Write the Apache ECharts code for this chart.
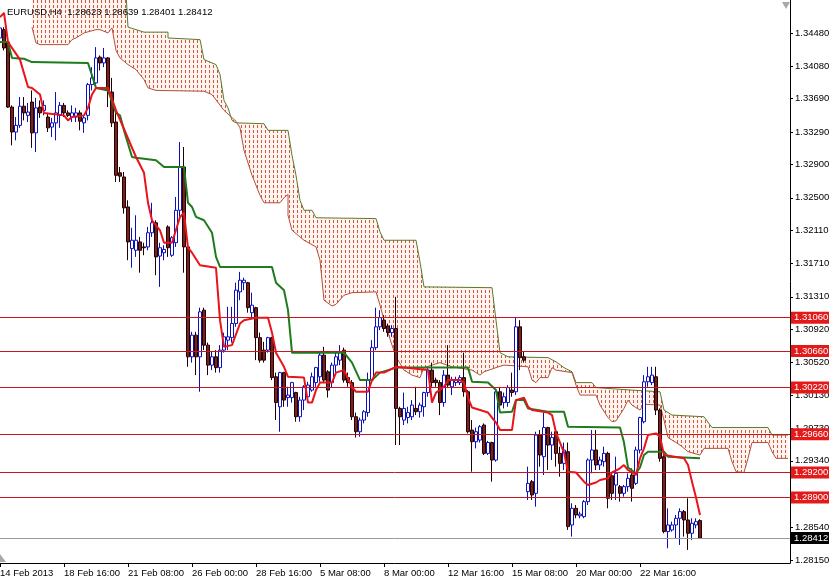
<!DOCTYPE html>
<html>
<head>
<meta charset="utf-8">
<script src="https://cdn.jsdelivr.net/npm/echarts@6/dist/echarts.min.js"></script>
<style>
html,body{margin:0;padding:0;background:#fff;}
#c{width:829px;height:579px;}
</style>
</head>
<body>
<div id="c"></div>
<script>
// ---- data ----
const symbolName = 'EURUSD,H4';
const slotCount = 198; // bars + forward (cloud shift) slots
const xTickIndex = [0, 16, 32, 48, 64, 80, 96, 112, 128, 144, 160];
const xTickText = ['14 Feb 2013', '18 Feb 16:00', '21 Feb 08:00', '26 Feb 00:00', '28 Feb 16:00',
  '5 Mar 08:00', '8 Mar 00:00', '12 Mar 16:00', '15 Mar 08:00', '20 Mar 00:00', '22 Mar 16:00'];
const yTickValues = [1.3448, 1.3408, 1.3369, 1.3329, 1.3290, 1.3250, 1.3211, 1.3171, 1.3131,
  1.3092, 1.3052, 1.3013, 1.2973, 1.2934, 1.2854, 1.2815];
const yMin = 1.28113, yMax = 1.34876;
const levels = [1.3106, 1.3066, 1.3022, 1.2966, 1.2920, 1.2890];
const lastPrice = 1.28412;

// [open, close, low, high]
const candles = [
[1.3442,1.3454,1.3440,1.3459],[1.3452,1.3430,1.3427,1.3455],[1.3437,1.3359,1.3358,1.3440],[1.3359,1.3329,1.3313,1.3361],
[1.3329,1.3337,1.3319,1.3347],[1.3337,1.3360,1.3334,1.3371],[1.3360,1.3352,1.3343,1.3371],[1.3349,1.3353,1.3341,1.3364],
[1.3365,1.3328,1.3310,1.3379],[1.3328,1.3358,1.3305,1.3370],[1.3359,1.3352,1.3346,1.3367],[1.3355,1.3361,1.3349,1.3367],
[1.3347,1.3334,1.3329,1.3352],[1.3335,1.3340,1.3323,1.3346],[1.3340,1.3352,1.3319,1.3377],[1.3349,1.3361,1.3334,1.3365],
[1.3361,1.3352,1.3347,1.3364],[1.3352,1.3349,1.3347,1.3355],[1.3347,1.3352,1.3341,1.3361],[1.3347,1.3352,1.3341,1.3358],
[1.3352,1.3342,1.3331,1.3355],[1.3340,1.3346,1.3328,1.3349],[1.3349,1.3386,1.3343,1.3388],[1.3386,1.3394,1.3379,1.3407],
[1.3388,1.3418,1.3382,1.3431],[1.3419,1.3412,1.3403,1.3421],[1.3412,1.3418,1.3407,1.3430],[1.3418,1.3379,1.3359,1.3419],
[1.3377,1.3340,1.3335,1.3394],[1.3341,1.3277,1.3269,1.3352],[1.3280,1.3276,1.3269,1.3287],[1.3275,1.3238,1.3231,1.3281],
[1.3239,1.3197,1.3175,1.3247],[1.3189,1.3199,1.3166,1.3214],[1.3187,1.3199,1.3179,1.3229],[1.3197,1.3187,1.3160,1.3203],
[1.3191,1.3190,1.3181,1.3196],[1.3191,1.3208,1.3187,1.3215],[1.3208,1.3220,1.3203,1.3244],[1.3220,1.3179,1.3157,1.3223],
[1.3180,1.3190,1.3143,1.3196],[1.3184,1.3188,1.3175,1.3193],[1.3215,1.3190,1.3179,1.3217],[1.3181,1.3202,1.3179,1.3204],
[1.3196,1.3235,1.3191,1.3251],[1.3235,1.3287,1.3227,1.3317],[1.3287,1.3191,1.3160,1.3311],[1.3191,1.3059,1.3047,1.3196],
[1.3059,1.3085,1.3052,1.3089],[1.3085,1.3059,1.3037,1.3089],[1.3059,1.3113,1.3017,1.3118],[1.3115,1.3073,1.3067,1.3118],
[1.3073,1.3049,1.3037,1.3076],[1.3049,1.3059,1.3043,1.3065],[1.3059,1.3046,1.3040,1.3067],[1.3046,1.3067,1.3040,1.3073],
[1.3067,1.3083,1.3064,1.3088],[1.3079,1.3083,1.3067,1.3119],[1.3082,1.3099,1.3076,1.3119],[1.3099,1.3139,1.3095,1.3148],
[1.3137,1.3151,1.3127,1.3161],[1.3148,1.3151,1.3139,1.3154],[1.3148,1.3118,1.3112,1.3149],[1.3112,1.3121,1.3106,1.3136],
[1.3118,1.3082,1.3055,1.3119],[1.3082,1.3055,1.3052,1.3088],[1.3067,1.3055,1.3052,1.3077],[1.3067,1.3082,1.3064,1.3083],
[1.3082,1.3034,1.3031,1.3083],[1.3035,1.3004,1.2983,1.3040],[1.2999,1.3040,1.2969,1.3041],[1.3040,1.3007,1.2999,1.3041],
[1.3010,1.3013,1.2999,1.3023],[1.3010,1.3028,1.3004,1.3029],[1.3016,1.2987,1.2981,1.3017],[1.2987,1.3007,1.2981,1.3011],
[1.3007,1.3023,1.2995,1.3025],[1.3011,1.3025,1.3004,1.3029],[1.3019,1.3035,1.3017,1.3040],[1.3028,1.3046,1.3023,1.3047],
[1.3035,1.3061,1.3029,1.3064],[1.3061,1.3031,1.3028,1.3071],[1.3041,1.3019,1.3010,1.3043],[1.3028,1.3049,1.3022,1.3052],
[1.3049,1.3059,1.3040,1.3064],[1.3055,1.3065,1.3049,1.3073],[1.3067,1.3031,1.3028,1.3070],[1.3034,1.3028,1.3023,1.3040],
[1.3028,1.2987,1.2983,1.3031],[1.2987,1.2969,1.2962,1.2992],[1.2969,1.2983,1.2963,1.2986],[1.2983,1.2993,1.2979,1.2995],
[1.2992,1.3031,1.2987,1.3040],[1.3031,1.3070,1.3028,1.3079],[1.3070,1.3095,1.3067,1.3118],[1.3095,1.3106,1.3091,1.3115],
[1.3103,1.3093,1.3089,1.3109],[1.3096,1.3088,1.3083,1.3099],[1.3088,1.3093,1.3083,1.3097],[1.3093,1.2997,1.2953,1.3131],
[1.2997,1.2987,1.2953,1.2999],[1.2983,1.2997,1.2977,1.3016],[1.2986,1.2992,1.2979,1.2999],[1.2987,1.3001,1.2983,1.3007],
[1.2997,1.2993,1.2989,1.3023],[1.2993,1.3001,1.2986,1.3004],[1.2999,1.3016,1.2987,1.3017],[1.3016,1.3043,1.3011,1.3046],
[1.3043,1.3028,1.3023,1.3052],[1.3031,1.3028,1.3023,1.3034],[1.3028,1.3004,1.2989,1.3031],[1.3004,1.3037,1.2999,1.3043],
[1.3037,1.3025,1.3022,1.3073],[1.3023,1.3031,1.3013,1.3035],[1.3028,1.3031,1.3024,1.3035],[1.3028,1.3034,1.3025,1.3037],
[1.3034,1.3017,1.3011,1.3064],[1.3017,1.2969,1.2967,1.3019],[1.2971,1.2957,1.2921,1.2983],[1.2957,1.2969,1.2949,1.2974],
[1.2959,1.2975,1.2956,1.2977],[1.2977,1.2943,1.2941,1.2979],[1.2943,1.2956,1.2941,1.2958],[1.2956,1.2935,1.2909,1.2957],
[1.2935,1.3017,1.2933,1.3019],[1.3017,1.3001,1.2997,1.3022],[1.3004,1.3011,1.2997,1.3016],[1.3004,1.3022,1.2999,1.3025],
[1.3019,1.3016,1.3011,1.3040],[1.3017,1.3095,1.3013,1.3106],[1.3095,1.3058,1.3043,1.3103],[1.3059,1.3055,1.3052,1.3065],
[1.2897,1.2907,1.2887,1.2927],[1.2909,1.2893,1.2887,1.2911],[1.2895,1.2965,1.2879,1.2969],[1.2965,1.2941,1.2927,1.2971],
[1.2939,1.2974,1.2917,1.2992],[1.2974,1.2953,1.2923,1.2975],[1.2953,1.2962,1.2935,1.2969],[1.2969,1.2943,1.2927,1.2974],
[1.2943,1.2931,1.2915,1.2951],[1.2931,1.2947,1.2923,1.2956],[1.2945,1.2855,1.2851,1.2956],[1.2857,1.2877,1.2843,1.2883],
[1.2877,1.2869,1.2865,1.2881],[1.2868,1.2870,1.2865,1.2873],[1.2867,1.2885,1.2865,1.2887],[1.2885,1.2935,1.2881,1.2937],
[1.2935,1.2947,1.2919,1.2971],[1.2947,1.2929,1.2923,1.2971],[1.2929,1.2935,1.2923,1.2939],[1.2933,1.2943,1.2927,1.2951],
[1.2943,1.2889,1.2877,1.2945],[1.2916,1.2895,1.2887,1.2919],[1.2905,1.2919,1.2887,1.2939],[1.2903,1.2895,1.2885,1.2905],
[1.2895,1.2903,1.2891,1.2905],[1.2903,1.2913,1.2897,1.2919],[1.2917,1.2901,1.2885,1.2925],[1.2907,1.2947,1.2905,1.2951],
[1.2947,1.2986,1.2943,1.2987],[1.2981,1.3029,1.2979,1.3037],[1.3029,1.3035,1.3023,1.3047],[1.3028,1.3037,1.3025,1.3047],
[1.3035,1.2995,1.2989,1.3047],[1.2995,1.2937,1.2933,1.2997],[1.2939,1.2849,1.2847,1.2945],[1.2849,1.2857,1.2829,1.2877],
[1.2851,1.2857,1.2849,1.2861],[1.2857,1.2865,1.2841,1.2869],[1.2865,1.2873,1.2833,1.2877],[1.2873,1.2863,1.2843,1.2875],
[1.2863,1.2847,1.2827,1.2889],[1.2847,1.2859,1.2839,1.2865],[1.2857,1.2861,1.2853,1.2865],[1.28623,1.28412,1.28401,1.28639]
];

// Tenkan-sen vertices [bar index, price]
const tenkan = [
[0,1.3467],[1,1.3472],[2,1.3437],[5,1.3416],[7,1.3383],[8,1.3382],[10,1.3374],[11,1.3352],[16,1.3349],[17,1.3343],
[18,1.3347],[21,1.3349],[22,1.3358],[23,1.3374],[24,1.3382],[27,1.3382],[29,1.3355],[34,1.3299],[36,1.3280],[37,1.3244],
[38,1.3223],[40,1.3211],[41,1.3196],[43,1.3196],[45,1.3227],[46,1.3232],[47,1.3190],[48,1.3184],[50,1.3169],[54,1.3166],
[55,1.3103],[56,1.3071],[58,1.3073],[60,1.3099],[61,1.3103],[64,1.3106],[67,1.3106],[68,1.3088],[69,1.3064],[71,1.3047],
[72,1.3035],[76,1.3034],[77,1.3004],[78,1.3004],[79,1.3019],[80,1.3028],[83,1.3028],[84,1.3040],[86,1.3043],[88,1.3023],
[89,1.3017],[92,1.3017],[93,1.3031],[94,1.3040],[96,1.3040],[99,1.3047],[107,1.3043],[108,1.3004],[109,1.3016],[111,1.3023],
[112,1.3031],[115,1.3031],[116,1.3028],[117,1.3010],[118,1.2998],[122,1.2992],[124,1.2980],[125,1.2971],[128,1.2971],[129,1.3007],
[131,1.3010],[132,1.2999],[133,1.2995],[137,1.2992],[138,1.2989],[139,1.2968],[141,1.2944],[142,1.2921],[144,1.2920],[146,1.2909],
[147,1.2905],[149,1.2908],[150,1.2911],[152,1.2913],[153,1.2920],[155,1.2925],[156,1.2929],[157,1.2923],[159,1.2917],[160,1.2937],
[161,1.2949],[162,1.2965],[164,1.2967],[165,1.2963],[166,1.2941],[171,1.2937],[172,1.2929],[173,1.2909],[174,1.2890],[175,1.2869]
];

// Kijun-sen vertices [bar index, price]
const kijun = [
[0,1.3437],[2,1.3437],[3,1.3418],[6,1.3417],[8,1.3413],[22,1.3412],[24,1.3382],[27,1.3379],[29,1.3352],[30,1.3349],
[31,1.3331],[33,1.3299],[34,1.3298],[39,1.3295],[41,1.3287],[46,1.3287],[47,1.3244],[48,1.3239],[49,1.3227],[51,1.3223],
[53,1.3208],[54,1.3179],[55,1.3167],[68,1.3167],[69,1.3148],[71,1.3139],[72,1.3115],[73,1.3064],[86,1.3064],[88,1.3052],
[90,1.3031],[93,1.3031],[95,1.3040],[99,1.3046],[117,1.3046],[118,1.3029],[122,1.3028],[124,1.3019],[125,1.2992],[128,1.2993],
[129,1.3007],[131,1.3007],[132,1.2997],[137,1.2993],[141,1.2993],[142,1.2975],[155,1.2974],[156,1.2956],[157,1.2926],[159,1.2919],
[160,1.2926],[161,1.2941],[162,1.2945],[166,1.2945],[167,1.2939],[175,1.2937]
];

// Kumo edges [bar index, price]
const senkouUpper = [
[8,1.3536],[31,1.3536],[32,1.3455],[36,1.3449],[42,1.3449],[42,1.3442],[50,1.3440],[51,1.3416],[54,1.3410],[55,1.3398],
[56,1.3367],[57,1.3358],[58,1.3343],[59,1.3340],[66,1.3339],[67,1.3331],[72,1.3331],[73,1.3301],[74,1.3277],[75,1.3247],
[76,1.3235],[78,1.3235],[79,1.3226],[94,1.3225],[95,1.3209],[96,1.3199],[104,1.3199],[105,1.3173],[106,1.3143],[123,1.3142],
[124,1.3103],[125,1.3064],[127,1.3059],[137,1.3058],[139,1.3053],[141,1.3046],[143,1.3041],[144,1.3028],[148,1.3028],[149,1.3022],
[158,1.3019],[165,1.3017],[166,1.2995],[168,1.2989],[176,1.2987],[178,1.2974],[192,1.2974],[193,1.2965],[197,1.2965]
];
const senkouLower = [
[8,1.3455],[9,1.3436],[10,1.3434],[17,1.3434],[18,1.3440],[19,1.3442],[21,1.3448],[24,1.3452],[25,1.3452],[27,1.3448],
[28,1.3454],[29,1.3427],[30,1.3418],[32,1.3410],[34,1.3404],[36,1.3392],[37,1.3382],[39,1.3379],[51,1.3378],[53,1.3374],
[56,1.3355],[59,1.3342],[60,1.3334],[61,1.3307],[63,1.3277],[65,1.3253],[66,1.3244],[70,1.3244],[71,1.3250],[72,1.3254],
[72,1.3229],[73,1.3211],[76,1.3199],[79,1.3191],[80,1.3175],[81,1.3127],[83,1.3120],[84,1.3122],[86,1.3133],[88,1.3136],
[94,1.3137],[95,1.3121],[96,1.3103],[98,1.3073],[99,1.3059],[101,1.3043],[103,1.3037],[105,1.3034],[106,1.3046],[110,1.3052],
[113,1.3047],[118,1.3043],[120,1.3037],[121,1.3041],[124,1.3046],[126,1.3049],[132,1.3047],[133,1.3031],[134,1.3028],[135,1.3034],
[137,1.3034],[138,1.3046],[139,1.3043],[143,1.3040],[144,1.3025],[145,1.3013],[149,1.3013],[150,1.3001],[152,1.2986],[153,1.2981],
[154,1.2982],[156,1.2997],[157,1.3007],[158,1.3001],[160,1.2995],[161,1.3002],[165,1.3001],[166,1.2983],[167,1.2962],[170,1.2953],
[172,1.2945],[175,1.2941],[176,1.2949],[182,1.2949],[183,1.2933],[184,1.2921],[186,1.2920],[187,1.2937],[188,1.2956],[192,1.2956],
[193,1.2945],[194,1.2937],[197,1.2937]
];

// ---- build ----
const categories = [];
for (let i = 0; i < slotCount; i++) categories.push('');
xTickIndex.forEach((ix, k) => { categories[ix] = xTickText[k]; });
const tickSet = new Set(xTickIndex);

const last = candles[candles.length - 1];
const titleText = symbolName + '  ' + [last[0], last[3], last[2], last[1]].map(v => v.toFixed(5)).join(' ');

// dashed hatch pattern for the kumo
const pc = document.createElement('canvas');
pc.width = 4; pc.height = 5;
const pctx = pc.getContext('2d');
pctx.fillStyle = 'rgba(253,234,226,0.5)';
pctx.fillRect(0, 0, 4, 5);
pctx.fillStyle = 'rgb(210,86,66)';
pctx.fillRect(1, 0, 1, 3);
const kumoImg = new Image();
kumoImg.src = pc.toDataURL('image/png');
const kumoPattern = { type: 'pattern', image: kumoImg, repeat: 'repeat' };

const FONT = 'Liberation Sans';

const levelMarks = levels.map(v => ({
  yAxis: v,
  lineStyle: { color: '#c8161c', width: 1, type: 'solid' },
  label: { backgroundColor: '#e41a1a', color: '#ffffff' }
}));
levelMarks.push({
  yAxis: lastPrice,
  lineStyle: { color: '#9a9a9a', width: 1, type: 'solid' },
  label: { backgroundColor: '#000000', color: '#ffffff' }
});

const chart = echarts.init(document.getElementById('c'), null, { renderer: 'canvas' });
function draw() {
chart.setOption({
  animation: false,
  backgroundColor: '#ffffff',
  title: {
    text: titleText, left: 2, top: 2,
    textStyle: { fontSize: 9.5, fontWeight: 'normal', color: '#000', fontFamily: FONT }
  },
  grid: { left: -2, right: 39, top: 0, bottom: 16, outerBoundsMode: 'none', containLabel: false },
  xAxis: {
    type: 'category', data: categories, boundaryGap: true,
    axisLine: { show: true, lineStyle: { color: '#000', width: 1 } },
    axisTick: { show: true, alignWithLabel: true, interval: (i) => tickSet.has(i), length: 4, lineStyle: { color: '#000' } },
    axisLabel: { show: true, interval: (i) => tickSet.has(i), align: 'left', margin: 5, color: '#000',
      fontSize: 9.5, fontFamily: FONT },
    splitLine: { show: false }
  },
  yAxis: {
    type: 'value', position: 'right', min: yMin, max: yMax, scale: true,
    axisLine: { show: true, lineStyle: { color: '#000', width: 1 } },
    axisTick: { show: true, length: 3, customValues: yTickValues, lineStyle: { color: '#000' } },
    axisLabel: { show: true, customValues: yTickValues, formatter: (v) => v.toFixed(5), margin: 5,
      color: '#000', fontSize: 9.5, fontFamily: FONT },
    splitLine: { show: false }
  },
  series: [
    {
      name: 'kumo', type: 'custom', clip: true, z: 1, silent: true,
      data: [[0, yMin]],
      renderItem: (params, api) => {
        const pts = [];
        senkouUpper.forEach(p => pts.push(api.coord(p)));
        for (let k = senkouLower.length - 1; k >= 0; k--) pts.push(api.coord(senkouLower[k]));
        return { type: 'polygon', shape: { points: pts }, style: { fill: kumoPattern, stroke: null } };
      }
    },
    {
      name: 'senkouUpper', type: 'line', data: senkouUpper, showSymbol: false, z: 2, silent: true,
      lineStyle: { color: '#5a7a2a', width: 1 }
    },
    {
      name: 'senkouLower', type: 'line', data: senkouLower, showSymbol: false, z: 2, silent: true,
      lineStyle: { color: '#b4503a', width: 1 }
    },
    {
      name: 'levels', type: 'line', data: [], clip: false, z: 2, silent: true,
      markLine: {
        silent: true, symbol: ['none', 'none'], animation: false, precision: 5,
        label: {
          show: true, position: 'end', distance: 1, formatter: (p) => Number(p.value).toFixed(5),
          fontSize: 9.5, fontFamily: FONT, padding: [1, 4, 1, 3]
        },
        data: levelMarks
      }
    },
    {
      name: symbolName, type: 'candlestick', data: candles, barWidth: 3, z: 3,
      itemStyle: { color: '#ffffff', color0: '#7a1f1f', borderColor: '#0c10b8', borderColor0: '#220000', borderWidth: 1 }
    },
    {
      name: 'kijun', type: 'line', data: kijun, showSymbol: false, z: 4,
      lineStyle: { color: '#1e7b1e', width: 2 }
    },
    {
      name: 'tenkan', type: 'line', data: tenkan, showSymbol: false, z: 5,
      lineStyle: { color: '#e8141a', width: 2 }
    }
  ],
  graphic: [
    { type: 'polygon', shape: { points: [[782, 2], [790, 2], [786, 9]] }, style: { fill: '#a8a8a8' }, z: 10 },
    { type: 'polygon', shape: { points: [[0, 554], [6, 562], [0, 562]] }, style: { fill: '#a8a8a8' }, z: 10 }
  ]
}, true);
}
if (kumoImg.complete) draw();
kumoImg.onload = draw;
draw();
</script>
</body>
</html>
